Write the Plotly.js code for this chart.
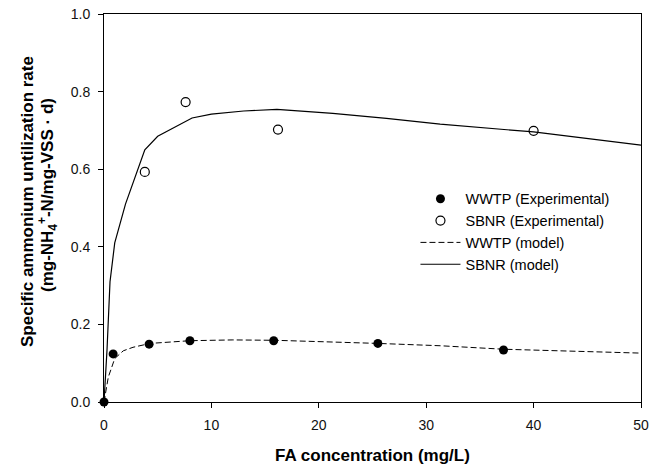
<!DOCTYPE html>
<html>
<head>
<meta charset="utf-8">
<script src="https://cdn.plot.ly/plotly-3.0.1.min.js"></script>
<style>html,body{margin:0;padding:0;background:#fff;}</style>
</head>
<body>
<div id="chart" style="width:649px;height:469px;"></div>
<script>
// Experimental data
const wwtpExpX = [0, 0.85, 4.2, 8.0, 15.8, 25.5, 37.2];
const wwtpExpY = [0, 0.124, 0.149, 0.158, 0.158, 0.151, 0.134];
const sbnrExpX = [3.8, 7.6, 16.2, 40.0];
const sbnrExpY = [0.593, 0.773, 0.702, 0.699];
// Model curves
const wwtpModelX = [0, 0.4, 1.0, 1.8, 2.7, 4.3, 8, 12, 16, 20, 25.5, 31.3, 37.2, 50];
const wwtpModelY = [0, 0.064, 0.112, 0.132, 0.141, 0.151, 0.158, 0.160, 0.159, 0.156, 0.151, 0.145, 0.136, 0.126];
const sbnrModelX = [0, 0.28, 0.56, 1.0, 2.0, 3.8, 5.0, 8.2, 10, 13, 16.1, 21.3, 26.3, 31.3, 40, 50];
const sbnrModelY = [0, 0.134, 0.31, 0.41, 0.51, 0.65, 0.685, 0.732, 0.742, 0.750, 0.754, 0.744, 0.731, 0.716, 0.696, 0.662];
// Labels
const xTitle = "FA concentration (mg/L)";
const yTitleLine1 = "Specific ammonium untilization rate";
const yTitleLine2 = "(mg-NH<sub>4</sub><sup>+</sup>-N/mg-VSS · d)";
const seriesNames = ["WWTP (Experimental)", "SBNR (Experimental)", "WWTP (model)", "SBNR (model)"];

const FONT = "Liberation Sans, Arial, sans-serif";

const traces = [
  {x: wwtpExpX, y: wwtpExpY, name: seriesNames[0], type: "scatter", mode: "markers", cliponaxis: false,
   marker: {symbol: "circle", size: 9, color: "#000", line: {width: 0}}},
  {x: sbnrExpX, y: sbnrExpY, name: seriesNames[1], type: "scatter", mode: "markers", cliponaxis: false,
   marker: {symbol: "circle-open", size: 9, color: "#000", line: {width: 1.2, color: "#000"}}},
  {x: wwtpModelX, y: wwtpModelY, name: seriesNames[2], type: "scatter", mode: "lines", cliponaxis: false,
   line: {color: "#000", width: 1, dash: "6px,3px"}},
  {x: sbnrModelX, y: sbnrModelY, name: seriesNames[3], type: "scatter", mode: "lines", cliponaxis: false,
   line: {color: "#000", width: 1.2}}
];

const axisCommon = {
  showline: true, mirror: true, linecolor: "#000", linewidth: 1,
  ticks: "outside", ticklen: 5, tickwidth: 1, tickcolor: "#000",
  ticklabelstandoff: 5,
  showgrid: false, zeroline: false,
  tickfont: {family: FONT, size: 14, color: "#111"}
};

const layout = {
  width: 649, height: 469,
  margin: {l: 104, r: 8, t: 14, b: 67},
  paper_bgcolor: "#fff", plot_bgcolor: "#fff",
  font: {family: FONT, color: "#000"},
  xaxis: Object.assign({}, axisCommon, {range: [0, 50], dtick: 10, tick0: 0}),
  yaxis: Object.assign({}, axisCommon, {range: [0, 1], dtick: 0.2, tick0: 0, tickformat: ".1f"}),
  showlegend: true,
  legend: {x: 0.58, y: 0.565, xanchor: "left", yanchor: "top", bgcolor: "rgba(0,0,0,0)",
           itemwidth: 40, tracegroupgap: 0,
           font: {family: FONT, size: 14.5, color: "#000"}},
  annotations: [
    {text: "<b>" + xTitle + "</b>", xref: "paper", yref: "paper", x: 0.5, y: -0.1366,
     xanchor: "center", yanchor: "middle", showarrow: false, font: {family: FONT, size: 17, color: "#000"}},
    {text: "<b>" + yTitleLine1 + "</b>", xref: "paper", yref: "paper", x: -0.1415, y: 0.5155,
     xanchor: "center", yanchor: "middle", textangle: -90, showarrow: false,
     font: {family: FONT, size: 17, color: "#000"}},
    {text: "<b>" + yTitleLine2 + "</b>", xref: "paper", yref: "paper", x: -0.1061, y: 0.5335,
     xanchor: "center", yanchor: "middle", textangle: -90, showarrow: false,
     font: {family: FONT, size: 17, color: "#000"}}
  ]
};

Plotly.newPlot("chart", traces, layout, {displayModeBar: false, staticPlot: true});
</script>
</body>
</html>
